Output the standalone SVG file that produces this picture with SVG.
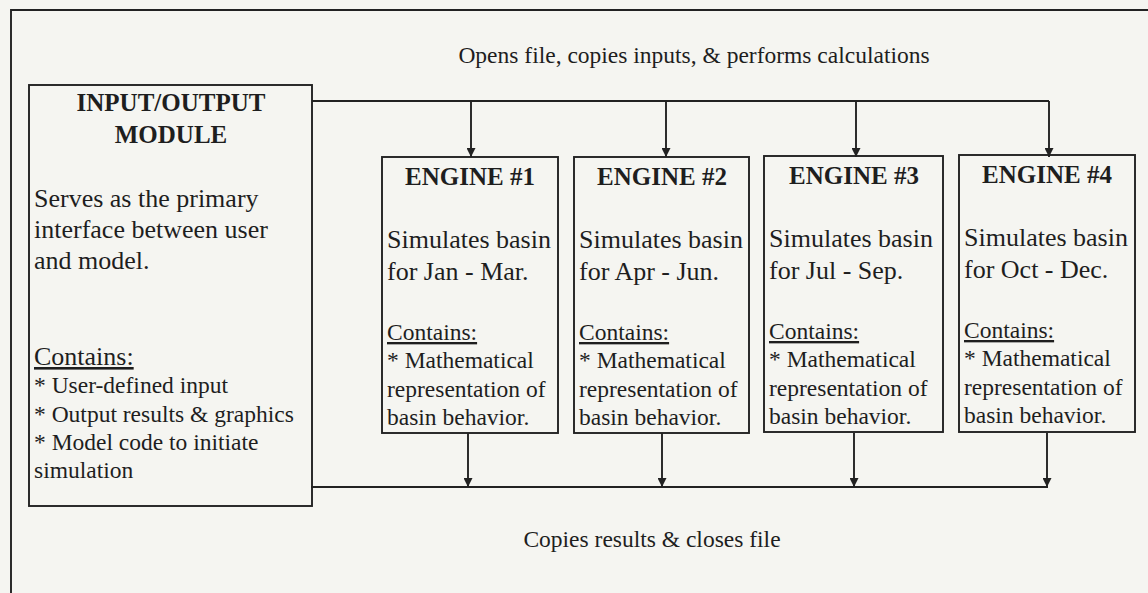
<svg xmlns="http://www.w3.org/2000/svg" width="1148" height="593" viewBox="0 0 1148 593">
<style>
.bg{fill:#f5f5f1}
.box{fill:none;stroke:#222;stroke-width:1.9}
.ln{fill:none;stroke:#222;stroke-width:1.9}
.hd{font-family:"Liberation Serif","Times New Roman",serif;font-weight:bold;font-size:25px;fill:#1e1e1e;text-anchor:middle}
.tx{font-family:"Liberation Serif","Times New Roman",serif;font-size:26px;fill:#1e1e1e}
.sm{font-family:"Liberation Serif","Times New Roman",serif;font-size:23.5px;fill:#1e1e1e}
.lb{font-family:"Liberation Serif","Times New Roman",serif;font-size:23.5px;fill:#1e1e1e;text-anchor:middle}
.u{text-decoration:underline}
</style>
<defs>
<marker id="ah" viewBox="0 0 10 10" refX="10" refY="5" markerWidth="9" markerHeight="9" markerUnits="userSpaceOnUse" orient="auto">
<path d="M0,0 L10,5 L0,10 Z" fill="#222"/>
</marker>
</defs>
<rect class="bg" x="0" y="0" width="1148" height="593"/>
<path class="ln" d="M11,600 V10 H1160"/>

<g id="connectors">
<path class="ln" d="M312,101 H1049"/>
<path class="ln" d="M471,101 V157" marker-end="url(#ah)"/>
<path class="ln" d="M666,101 V157" marker-end="url(#ah)"/>
<path class="ln" d="M856,101 V157" marker-end="url(#ah)"/>
<path class="ln" d="M1049,101 V157" marker-end="url(#ah)"/>
<path class="ln" d="M311,487 H1048"/>
<path class="ln" d="M468,433 V487" marker-end="url(#ah)"/>
<path class="ln" d="M662,433 V487" marker-end="url(#ah)"/>
<path class="ln" d="M854,433 V487" marker-end="url(#ah)"/>
<path class="ln" d="M1047,433 V487" marker-end="url(#ah)"/>
<text class="lb" x="694" y="63">Opens file, copies inputs, &amp; performs calculations</text>
<text class="lb" x="652" y="547">Copies results &amp; closes file</text>
</g>

<g id="io">
<rect class="box" x="29" y="85" width="283" height="421"/>
<text class="hd" x="171" y="111">INPUT/OUTPUT</text>
<text class="hd" x="171" y="143">MODULE</text>
<text class="tx" x="34" y="207">Serves as the primary</text>
<text class="tx" x="34" y="238">interface between user</text>
<text class="tx" x="34" y="269">and model.</text>
<text class="tx u" x="34" y="365">Contains:</text>
<text class="sm" x="34" y="393">* User-defined input</text>
<text class="sm" x="34" y="422">* Output results &amp; graphics</text>
<text class="sm" x="34" y="450">* Model code to initiate</text>
<text class="sm" x="34" y="478">simulation</text>
</g>

<g id="engine1">
<rect class="box" x="382" y="157" width="176" height="276"/>
<text class="hd" x="470" y="185">ENGINE #1</text>
<text class="tx" x="387" y="248">Simulates basin</text>
<text class="tx" x="387" y="280">for Jan - Mar.</text>
<text class="sm u" x="387" y="340">Contains:</text>
<text class="sm" x="387" y="368">* Mathematical</text>
<text class="sm" x="387" y="397">representation of</text>
<text class="sm" x="387" y="425">basin behavior.</text>
</g>

<g id="engine2">
<rect class="box" x="574" y="157" width="175" height="276"/>
<text class="hd" x="662" y="185">ENGINE #2</text>
<text class="tx" x="579" y="248">Simulates basin</text>
<text class="tx" x="579" y="280">for Apr - Jun.</text>
<text class="sm u" x="579" y="340">Contains:</text>
<text class="sm" x="579" y="368">* Mathematical</text>
<text class="sm" x="579" y="397">representation of</text>
<text class="sm" x="579" y="425">basin behavior.</text>
</g>

<g id="engine3">
<rect class="box" x="764" y="156" width="179" height="276"/>
<text class="hd" x="854" y="184">ENGINE #3</text>
<text class="tx" x="769" y="247">Simulates basin</text>
<text class="tx" x="769" y="279">for Jul - Sep.</text>
<text class="sm u" x="769" y="339">Contains:</text>
<text class="sm" x="769" y="367">* Mathematical</text>
<text class="sm" x="769" y="396">representation of</text>
<text class="sm" x="769" y="424">basin behavior.</text>
</g>

<g id="engine4">
<rect class="box" x="959" y="155" width="176" height="277"/>
<text class="hd" x="1047" y="183">ENGINE #4</text>
<text class="tx" x="964" y="246">Simulates basin</text>
<text class="tx" x="964" y="278">for Oct - Dec.</text>
<text class="sm u" x="964" y="338">Contains:</text>
<text class="sm" x="964" y="366">* Mathematical</text>
<text class="sm" x="964" y="395">representation of</text>
<text class="sm" x="964" y="423">basin behavior.</text>
</g>
</svg>
